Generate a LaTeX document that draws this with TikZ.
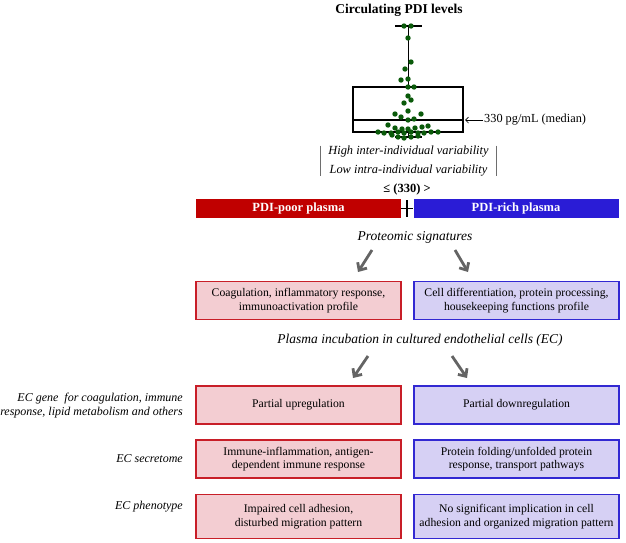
\documentclass[tikz,border=0pt]{standalone}
\usepackage{fontspec}
\setmainfont{Liberation Serif}
\usepackage{tikz}
\usetikzlibrary{arrows.meta,positioning}
\definecolor{poorred}{RGB}{192,0,0}
\definecolor{richblue}{RGB}{42,28,214}
\definecolor{redline}{RGB}{200,30,40}
\definecolor{softred}{RGB}{243,205,210}
\definecolor{blueline}{RGB}{50,40,210}
\definecolor{softviolet}{RGB}{214,208,244}
\definecolor{arrowgrey}{RGB}{100,100,100}
\definecolor{dotgreen}{RGB}{10,90,10}
\definecolor{bargrey}{RGB}{110,110,110}

\begin{document}
\begin{tikzpicture}[x=1pt,y=-1pt,
  redbox/.style={draw=redline,line width=1.5pt,fill=softred,minimum width=205pt,minimum height=38pt,
    align=center,inner sep=1pt,font=\fontsize{11.7}{13.5}\selectfont},
  bluebox/.style={redbox,draw=blueline,fill=softviolet},
  plasmabar/.style={text=white,minimum width=205pt,minimum height=19pt,inner sep=0pt,
    font=\fontsize{12.5}{15}\selectfont\bfseries},
  heading/.style={font=\fontsize{13.5}{16}\selectfont\itshape},
  rowlabel/.style={anchor=east,align=right,inner sep=0pt,font=\fontsize{12}{13.5}\selectfont\itshape},
  bigarrow/.style={arrowgrey,line width=2.8pt,-{Straight Barb[length=6pt,width=11pt]}},
  plotline/.style={black,line width=1.4pt}]
\useasboundingbox (0,0) rectangle (626,542);
% circulating levels: box plot
\begin{scope}
  \node[font=\fontsize{13.5}{16}\selectfont\bfseries] (title) at (399,10) {Circulating PDI levels};
  \draw[plotline] (395,26) -- (422,26);
  \draw[plotline] (408.5,26) -- (408.5,87);
  \draw[plotline] (353,87) rectangle (463,132);
  \draw[plotline] (353,120) -- (463,120);
  \draw[plotline] (408.5,132) -- (408.5,137);
  \draw[plotline] (395,137) -- (422,137);
  \foreach \x/\y in {404/26,411/26,408/38,411/62,405/69,401/80,408/79,408/87,414/87,408/96,
    404/103,411/100,408/111,395/114,421/114,401/117,414/119,408/120,
    388/125,395/128,402/129,408/129,415/128,422/127,428/126,
    378/132,384/133,391/133,398/132,404/133,411/132,418/133,424/133,431/132,438/132,
    392/135,398/137,404/138,411/137,418/136}
    \fill[dotgreen] (\x,\y) circle[radius=2.7pt];
  \node[anchor=west,inner sep=1pt,font=\fontsize{12.3}{15}\selectfont] (median) at (483,120) {330 pg/mL (median)};
  \coordinate (boxedge) at (465,120);
  \draw[line width=0.7pt,-{Straight Barb[length=3pt,width=6pt]}] (median.west) -- (boxedge);
\end{scope}
% variability and cut-off
\begin{scope}
  \node[align=center,inner xsep=8pt,inner ysep=0pt,font=\fontsize{12.4}{19}\selectfont\itshape]
    (var) at (408.5,161) {High inter-individual variability\\Low intra-individual variability};
  \draw[bargrey,line width=1pt] (var.north west) -- (var.south west);
  \draw[bargrey,line width=1pt] (var.north east) -- (var.south east);
  \node[font=\fontsize{12.5}{15}\selectfont\bfseries] (cutoff) at (407,189) {≤ (330) >};
  \node[plasmabar,fill=poorred] (poor) at (298.5,208.5) {PDI-poor plasma};
  \node[plasmabar,fill=richblue] (rich) at (516,208.5) {PDI-rich plasma};
  \draw[line width=1.2pt] (poor.east) -- (rich.west);
  \draw[line width=1.2pt] (407,200) -- (407,217);
\end{scope}
% proteomic signatures
\begin{scope}
  \node[heading] (sig) at (415,237) {Proteomic signatures};
  \coordinate (sigL) at (372,250); \coordinate (sigLend) at (358,272);
  \coordinate (sigR) at (455,250); \coordinate (sigRend) at (468,272);
  \draw[bigarrow] (sigL) -- (sigLend);
  \draw[bigarrow] (sigR) -- (sigRend);
  \node[redbox] (sigpoor) at (298.5,300.5) {Coagulation, inflammatory response,\\immunoactivation profile};
  \node[bluebox] (sigrich) at (516.5,300.5) {Cell differentiation, protein processing,\\housekeeping functions profile};
\end{scope}
% plasma incubation in EC
\begin{scope}
  \node[heading] (inc) at (420,340) {Plasma incubation in cultured endothelial cells (EC)};
  \coordinate (incL) at (368,356); \coordinate (incLend) at (353,378);
  \coordinate (incR) at (452,356); \coordinate (incRend) at (467,378);
  \draw[bigarrow] (incL) -- (incLend);
  \draw[bigarrow] (incR) -- (incRend);
  \node[rowlabel] (genelab) at (183,405.5) {EC gene\ \ for coagulation, immune\\response, lipid metabolism and others};
  \node[redbox] (genepoor) at (298.5,405) {Partial upregulation};
  \node[bluebox] (generich) at (516.5,405) {Partial downregulation};
  \node[rowlabel] (seclab) at (183,459) {EC secretome};
  \node[redbox] (secpoor) at (298.5,459) {Immune-inflammation, antigen-\\dependent immune response};
  \node[bluebox] (secrich) at (516.5,459) {Protein folding/unfolded protein\\response, transport pathways};
  \node[rowlabel] (phenlab) at (183,507) {EC phenotype};
  \node[redbox,minimum height=44pt] (phenpoor) at (298.5,516.5) {Impaired cell adhesion,\\disturbed migration pattern};
  \node[bluebox,minimum height=44pt] (phenrich) at (516.5,516.5) {No significant implication in cell\\adhesion and organized migration pattern};
\end{scope}
\end{tikzpicture}
\end{document}
